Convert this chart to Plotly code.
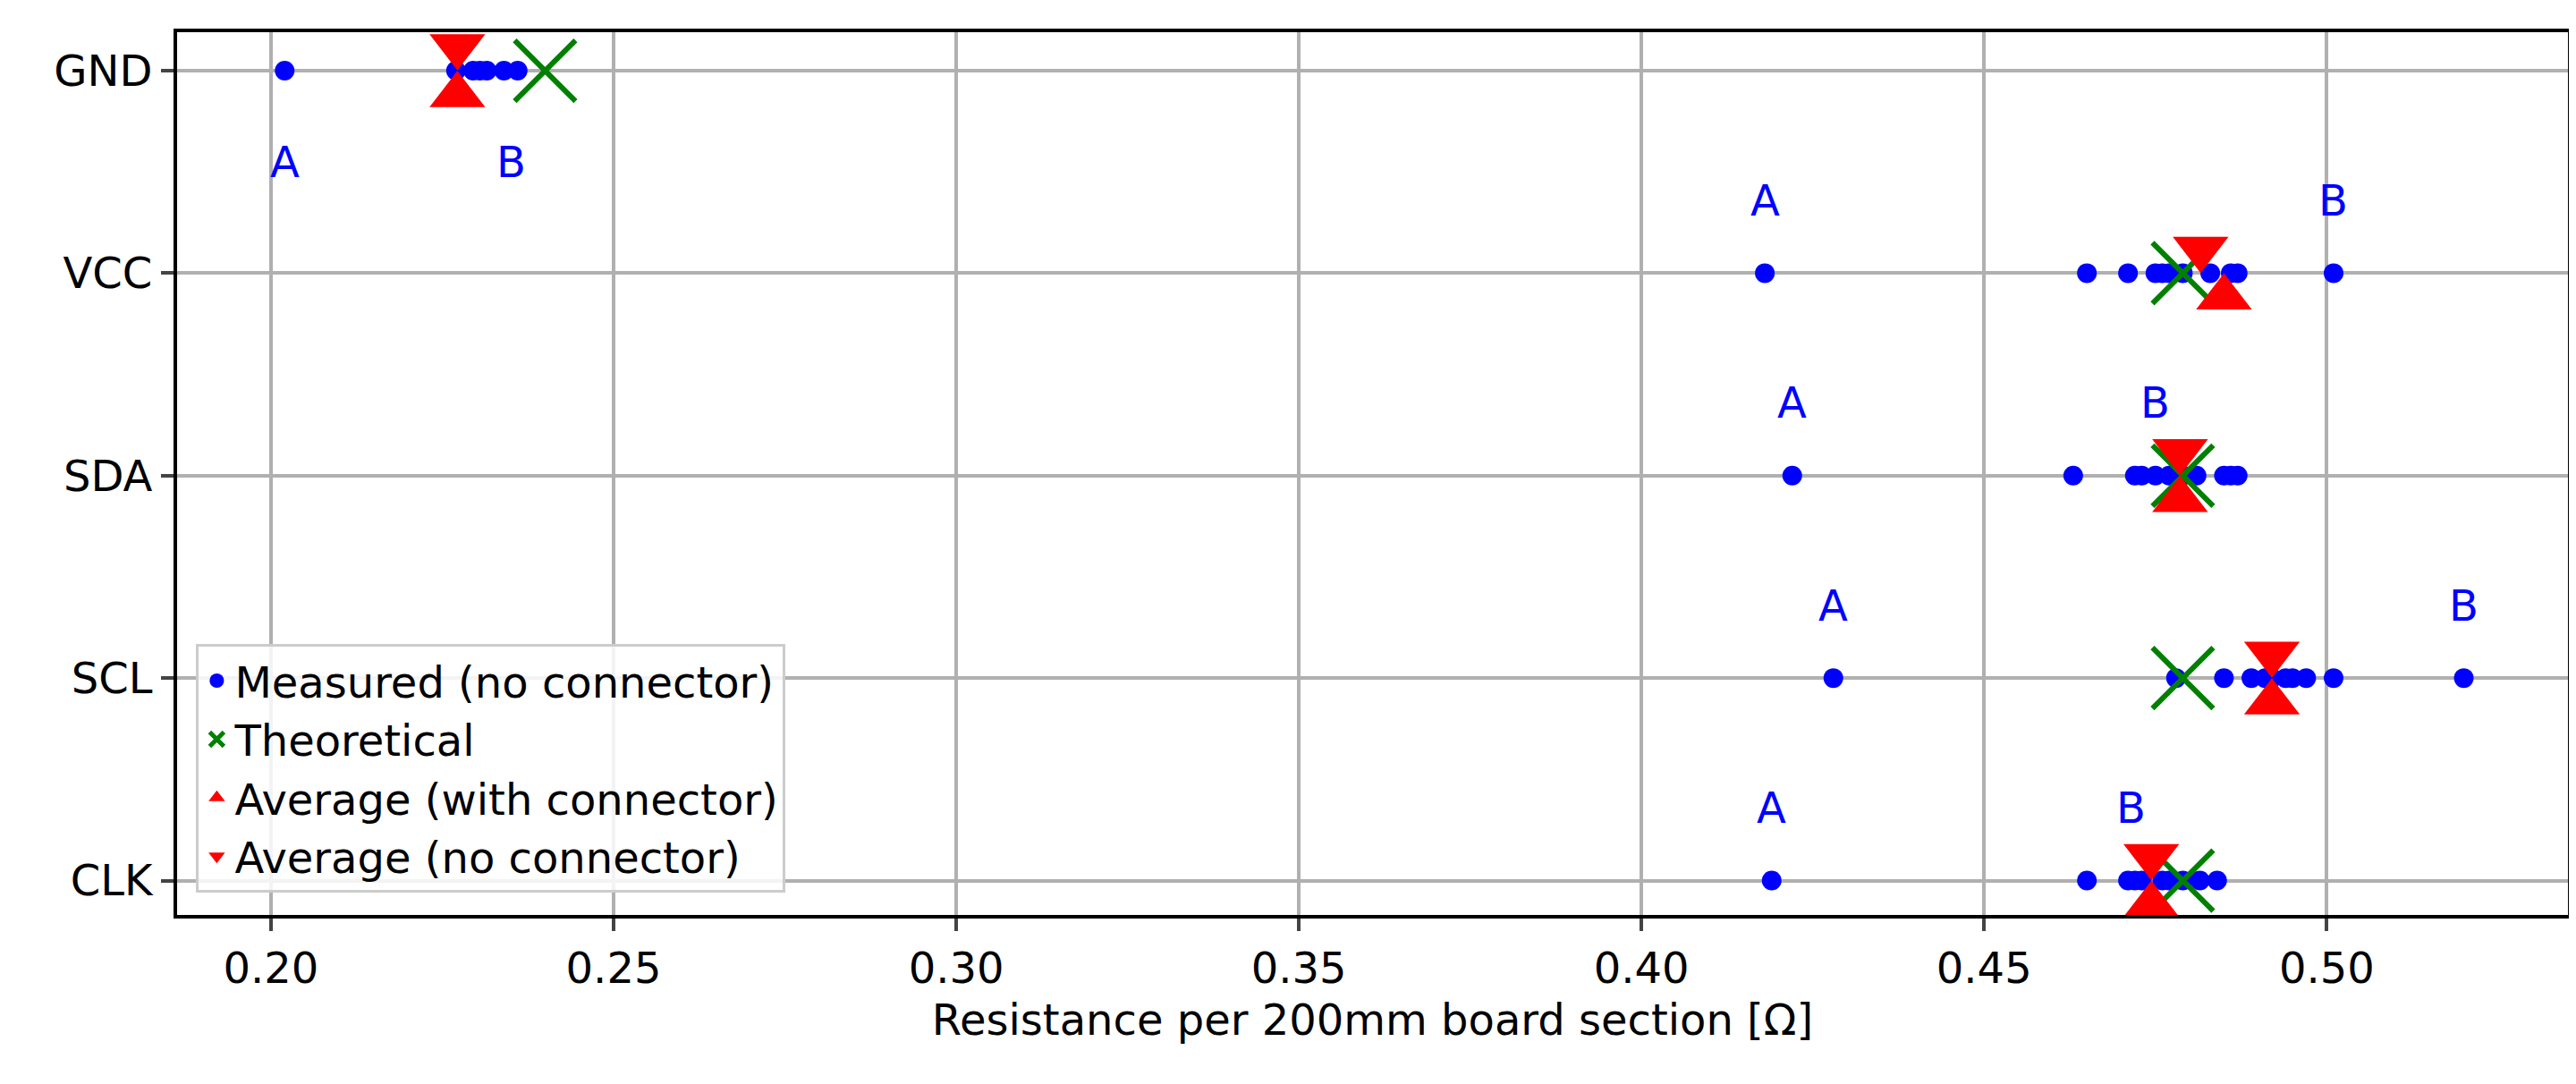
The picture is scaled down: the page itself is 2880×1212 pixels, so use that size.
import plotly.graph_objects as go

nets = ["GND", "VCC", "SDA", "SCL", "CLK"]
measured = {
    "GND": [0.202, 0.227, 0.2295, 0.2305, 0.2315, 0.234, 0.236],
    "VCC": [0.418, 0.465, 0.471, 0.475, 0.476, 0.477, 0.479, 0.483, 0.486, 0.487, 0.501],
    "SDA": [0.422, 0.463, 0.472, 0.473, 0.475, 0.477, 0.479, 0.481, 0.485, 0.486, 0.487],
    "SCL": [0.428, 0.478, 0.485, 0.489, 0.491, 0.492, 0.494, 0.495, 0.497, 0.501, 0.520],
    "CLK": [0.419, 0.465, 0.471, 0.472, 0.473, 0.476, 0.477, 0.479, 0.4815, 0.484],
}
theoretical = [0.240, 0.479, 0.479, 0.479, 0.479]
avg_with = [0.2272, 0.485, 0.4786, 0.492, 0.4744]
avg_no = [0.2272, 0.4816, 0.4786, 0.492, 0.4744]
label_a_x = [0.202, 0.418, 0.422, 0.428, 0.419]
label_b_x = [0.235, 0.501, 0.475, 0.520, 0.4715]
x_ticks = [0.20, 0.25, 0.30, 0.35, 0.40, 0.45, 0.50]

FONT = "DejaVu Sans"
idx = list(range(len(nets)))
fig = go.Figure()
mx, my = [], []
for i, n in enumerate(nets):
    mx += measured[n]
    my += [i] * len(measured[n])
fig.add_trace(go.Scatter(x=mx, y=my, mode="markers", name="Measured (no connector)",
                         marker=dict(color="blue", size=22)))
fig.add_trace(go.Scatter(x=theoretical, y=idx, mode="markers", name="Theoretical",
                         marker=dict(symbol="x-thin", size=68, line=dict(color="green", width=6), color="green")))
off = 0.12
fig.add_trace(go.Scatter(x=avg_with, y=[i + off for i in idx], mode="markers", name="Average (with connector)",
                         marker=dict(symbol="triangle-up", size=54, color="red")))
fig.add_trace(go.Scatter(x=avg_no, y=[i - off for i in idx], mode="markers", name="Average (no connector)",
                         marker=dict(symbol="triangle-down", size=54, color="red")))

for i in idx:
    dy = 0.45 if i == 0 else -0.36
    for lx, t in ((label_a_x[i], "A"), (label_b_x[i], "B")):
        fig.add_annotation(x=lx, y=i + dy, text=t, showarrow=False,
                           font=dict(family=FONT, size=48, color="blue"))

fig.update_layout(
    width=2880, height=1212, plot_bgcolor="white", paper_bgcolor="white",
    margin=dict(l=190, r=17, t=28, b=197),
    font=dict(family=FONT, size=48, color="black"),
    legend=dict(x=0.008, y=0.025, xanchor="left", yanchor="bottom", bgcolor="rgba(255,255,255,0.85)",
                bordercolor="#cccccc", borderwidth=3, font=dict(size=48), tracegroupgap=0),
    xaxis=dict(range=[0.1863, 0.5352], tickvals=x_ticks, tickformat=".2f", showgrid=True,
               gridcolor="#b0b0b0", gridwidth=4, showline=True, mirror=True, linecolor="black",
               linewidth=4, ticks="outside", ticklen=14, tickwidth=4, zeroline=False,
               title=dict(text="Resistance per 200mm board section [Ω]", font=dict(size=48), standoff=16)),
    yaxis=dict(range=[4.17, -0.19], tickvals=idx, ticktext=nets, showgrid=True,
               gridcolor="#b0b0b0", gridwidth=4, showline=True, mirror=True, linecolor="black",
               linewidth=4, ticks="outside", ticklen=14, tickwidth=4, zeroline=False),
)
fig.write_html("out.html")
